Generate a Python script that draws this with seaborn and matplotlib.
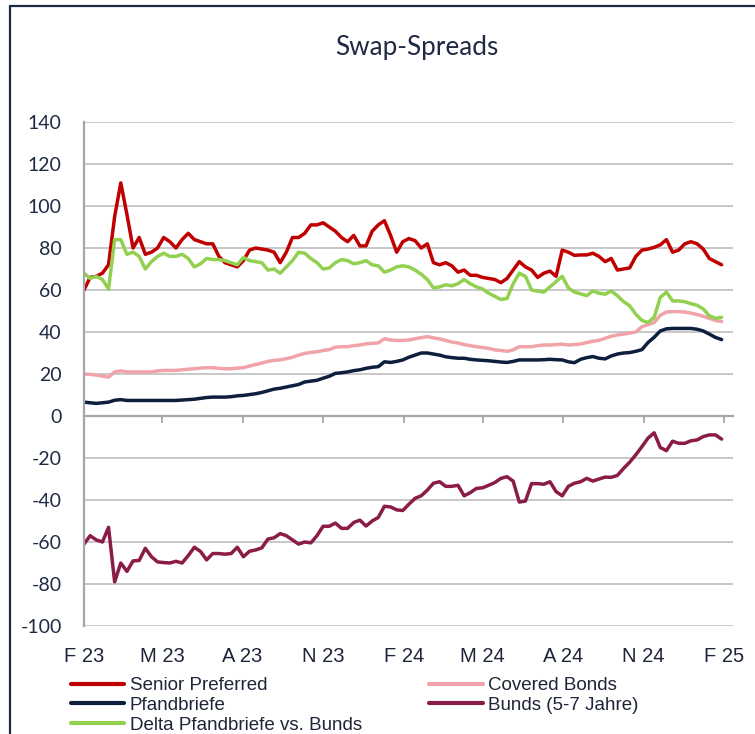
import numpy as np
import pandas as pd
import matplotlib
matplotlib.use("Agg")
import matplotlib.pyplot as plt
from matplotlib.lines import Line2D
import seaborn as sns

# ---------------- data (weekly readings, first = 2023-02-01) ----------------
start_date = "2023-02-01"

senior_preferred = [
    60, 66, 66.5, 68, 72, 95, 111, 96, 80, 85,
    77, 78, 80, 85, 83, 80, 84, 87, 84, 83,
    82, 82, 76, 73, 72, 71, 74, 79, 80, 79.5,
    79, 78, 73, 78, 85, 85, 87, 91, 91, 92,
    90, 88, 85, 83, 86, 81, 81, 88, 91, 93,
    86, 78, 83, 84.5, 83.5, 80, 82, 73, 72, 73,
    71.5, 68.5, 69.5, 67, 67, 66, 65.5, 65, 63.5, 65.5,
    69.5, 73.5, 71, 69.5, 66, 68, 69, 66.5, 79, 78,
    76.5, 76.7, 76.7, 77.5, 76, 73.5, 75, 69.5, 70, 70.5,
    76, 79, 79.5, 80.3, 81.5, 84, 78, 79, 82, 83,
    82, 79.5, 75, 73.5, 72,
]

covered_bonds = [
    20, 19.8, 19.5, 19, 18.5, 21, 21.5, 21, 21, 21,
    21, 21, 21.5, 21.7, 21.7, 21.7, 22, 22.3, 22.5, 22.8,
    23, 23, 22.7, 22.5, 22.5, 22.8, 23, 23.8, 24.5, 25.2,
    26, 26.5, 26.7, 27.3, 28, 29, 29.8, 30.3, 30.6, 31.2,
    31.6, 32.8, 33, 33, 33.5, 33.8, 34.4, 34.6, 34.8, 36.8,
    36.2, 36, 36, 36.2, 36.8, 37.3, 37.8, 37.2, 36.7, 36,
    35.2, 34.8, 34, 33.5, 33, 32.6, 32.2, 31.5, 31.2, 30.8,
    31.5, 33, 33, 33, 33.5, 33.8, 33.8, 34, 34.2, 33.8,
    34, 34.3, 35, 35.6, 36, 37, 38, 38.6, 39, 39.5,
    40, 42.5, 43.5, 44.5, 48, 49.5, 49.7, 49.7, 49.5, 49,
    48.3, 47.5, 46.5, 45.5, 45,
]

pfandbriefe = [
    6.6, 6.3, 6, 6.3, 6.6, 7.5, 7.8, 7.4, 7.4, 7.4,
    7.4, 7.4, 7.4, 7.4, 7.4, 7.4, 7.6, 7.8, 8, 8.4,
    8.8, 9, 9, 9, 9.2, 9.6, 9.8, 10.2, 10.6, 11.2,
    12, 12.8, 13.2, 13.8, 14.4, 15, 16.2, 16.6, 17, 18,
    18.9, 20.3, 20.6, 21, 21.6, 22, 22.7, 23.2, 23.5, 25.8,
    25.5, 26, 26.7, 28, 29, 30, 30, 29.5, 29, 28.2,
    27.8, 27.5, 27.5, 27, 26.7, 26.5, 26.3, 26, 25.7, 25.5,
    26, 26.7, 26.7, 26.7, 26.7, 26.8, 27, 26.8, 26.7, 25.8,
    25.4, 27, 27.8, 28.3, 27.5, 27.2, 28.6, 29.5, 30, 30.2,
    30.8, 31.6, 35, 37.5, 40.5, 41.5, 41.7, 41.7, 41.7, 41.7,
    41.3, 40.5, 39, 37.4, 36.4,
]

bunds_5_7 = [
    -61, -57, -59, -60, -53, -79, -70, -74, -69, -68.8,
    -63, -67, -69.5, -69.8, -70, -69.2, -70, -66.5, -62.5, -64.5,
    -68.5, -65.5, -65.5, -65.8, -65.5, -62.5, -67, -64.4, -63.8, -62.8,
    -58.6, -58, -56, -57, -59, -61, -60, -60.4, -57, -52.5,
    -52.5, -51, -53.5, -53.5, -50.7, -49.6, -52.4, -50, -48.3, -43,
    -43.3, -44.7, -45, -42, -39.2, -38, -35.3, -32, -31.3, -33.5,
    -33.5, -33, -38, -36.5, -34.5, -34.2, -33, -31.7, -29.7, -28.9,
    -31, -41, -40.5, -32.2, -32.2, -32.5, -31.3, -36, -38, -33.5,
    -32, -31.3, -29.7, -31, -30, -29.1, -29.2, -28.3, -25, -22,
    -18.5, -14.6, -10.5, -8, -15, -16.5, -12, -13, -13, -11.8,
    -11.4, -9.8, -9, -9, -11,
]

delta_pf_bunds = [
    68, 65.5, 66.5, 65, 60.5, 84, 84, 77, 78, 76,
    70, 73.5, 76, 77.5, 76, 76, 77, 75, 71, 72.5,
    75, 74.5, 74.5, 74, 73, 72, 75.5, 74, 73.5, 73,
    69.5, 70, 68, 71, 74, 78, 77.5, 75, 73, 70,
    70.5, 73, 74.5, 74, 72.5, 73, 74, 72, 71.5, 68.5,
    69.5, 71, 71.5, 71, 69.5, 67.5, 65, 61, 61.5, 62.5,
    62, 63, 65, 63, 61.5, 60.5, 58.5, 57, 55.5, 56,
    63, 68, 66.5, 60, 59.5, 59, 61.5, 64, 66.5, 61,
    59, 58.2, 57.3, 59.5, 58.5, 58, 59.5, 57.3, 54.5, 52.5,
    48.5, 45.5, 44.5, 47, 56.5, 59, 54.8, 54.8, 54.4, 53.5,
    52.7, 51, 47.7, 46.5, 47,
]

series_names = ["Senior Preferred", "Covered Bonds", "Pfandbriefe",
                "Bunds (5-7 Jahre)", "Delta Pfandbriefe vs. Bunds"]
series_values = [senior_preferred, covered_bonds, pfandbriefe, bunds_5_7, delta_pf_bunds]
series_colors = ["#C00000", "#F0A3A8", "#0E1F3D", "#8A1C47", "#92D050"]

tick_dates = ["2023-02-01", "2023-05-01", "2023-08-01", "2023-11-01", "2024-02-01",
              "2024-05-01", "2024-08-01", "2024-11-01", "2025-02-01"]
tick_labels = ["F 23", "M 23", "A 23", "N 23", "F 24", "M 24", "A 24", "N 24", "F 25"]
y_ticks = [-100, -80, -60, -40, -20, 0, 20, 40, 60, 80, 100, 120, 140]

# ---------------- long-form table ----------------
frames = []
for name, vals in zip(series_names, series_values):
    dates = pd.date_range(start_date, periods=len(vals), freq="7D")
    frames.append(pd.DataFrame({"date": dates, "value": vals, "series": name}))
df = pd.concat(frames, ignore_index=True)

# ---------------- figure ----------------
sns.set_theme(style="white")
plt.rcParams["font.family"] = ["Liberation Sans", "DejaVu Sans"]

W, H = 755, 734
fig = plt.figure(figsize=(W / 100, H / 100), dpi=100)
ax = fig.add_axes([84 / W, 1 - 626 / H, (733 - 84) / W, (626 - 122) / H])

sns.lineplot(data=df, x="date", y="value", hue="series", hue_order=series_names,
             palette=series_colors, linewidth=2.5, ax=ax, legend=False)

ax.set_xlim(pd.Timestamp("2023-02-01"), pd.Timestamp("2025-02-11"))
ax.set_ylim(-100, 140)
ax.set_xlabel("")
ax.set_ylabel("")

ax.set_yticks(y_ticks)
ax.set_yticklabels([str(v) for v in y_ticks])
ax.set_xticks(pd.to_datetime(tick_dates))
ax.set_xticklabels(tick_labels)

ax.yaxis.grid(True, color="#C4C4C4", linewidth=1.3)
ax.xaxis.grid(False)
ax.set_axisbelow(True)

for s in ["top", "right"]:
    ax.spines[s].set_visible(False)
ax.spines["left"].set_color("#A6A6A6")
ax.spines["left"].set_linewidth(1.6)
ax.spines["bottom"].set_position(("data", 0))
ax.spines["bottom"].set_color("#A6A6A6")
ax.spines["bottom"].set_linewidth(1.6)

ax.tick_params(axis="x", direction="out", length=5, width=1.3, color="#A6A6A6",
               pad=161, labelsize=14.5, labelcolor="#1E2538", bottom=True)
ax.tick_params(axis="y", length=0, pad=16, labelsize=14, labelcolor="#1F2A44")
for lbl in ax.get_yticklabels():
    lbl.set_fontfamily(["Lato", "DejaVu Sans"])

# title
fig.text(416.5 / W, 1 - 47 / H, "Swap-Spreads", ha="center", va="center",
         fontsize=18.8, color="#1F2A44", family=["Lato", "DejaVu Sans"])

# legend (column-major: left column 3 entries, right column 2)
order = [0, 2, 4, 1, 3]
handles = [Line2D([], [], color=series_colors[i], linewidth=3) for i in order]
labels = [series_names[i] for i in order]
fig.legend(handles, labels, ncol=2, loc="upper left",
           bbox_to_anchor=(71 / W, 1 - 677 / H), frameon=False,
           fontsize=13.5, handlelength=2.85, handletextpad=0.27,
           columnspacing=3.6, labelspacing=0.14, borderpad=0, borderaxespad=0,
           labelcolor="#1E2538")

# outer frame (left and top edges visible)
frame_col = "#1B2A41"
fig.add_artist(Line2D([9.5 / W, 9.5 / W], [1 - 5.5 / H, 0], transform=fig.transFigure,
                      color=frame_col, linewidth=1.6))
fig.add_artist(Line2D([9.5 / W, 1], [1 - 5.5 / H, 1 - 5.5 / H], transform=fig.transFigure,
                      color=frame_col, linewidth=1.6))

fig.savefig("out.png", dpi=100)
